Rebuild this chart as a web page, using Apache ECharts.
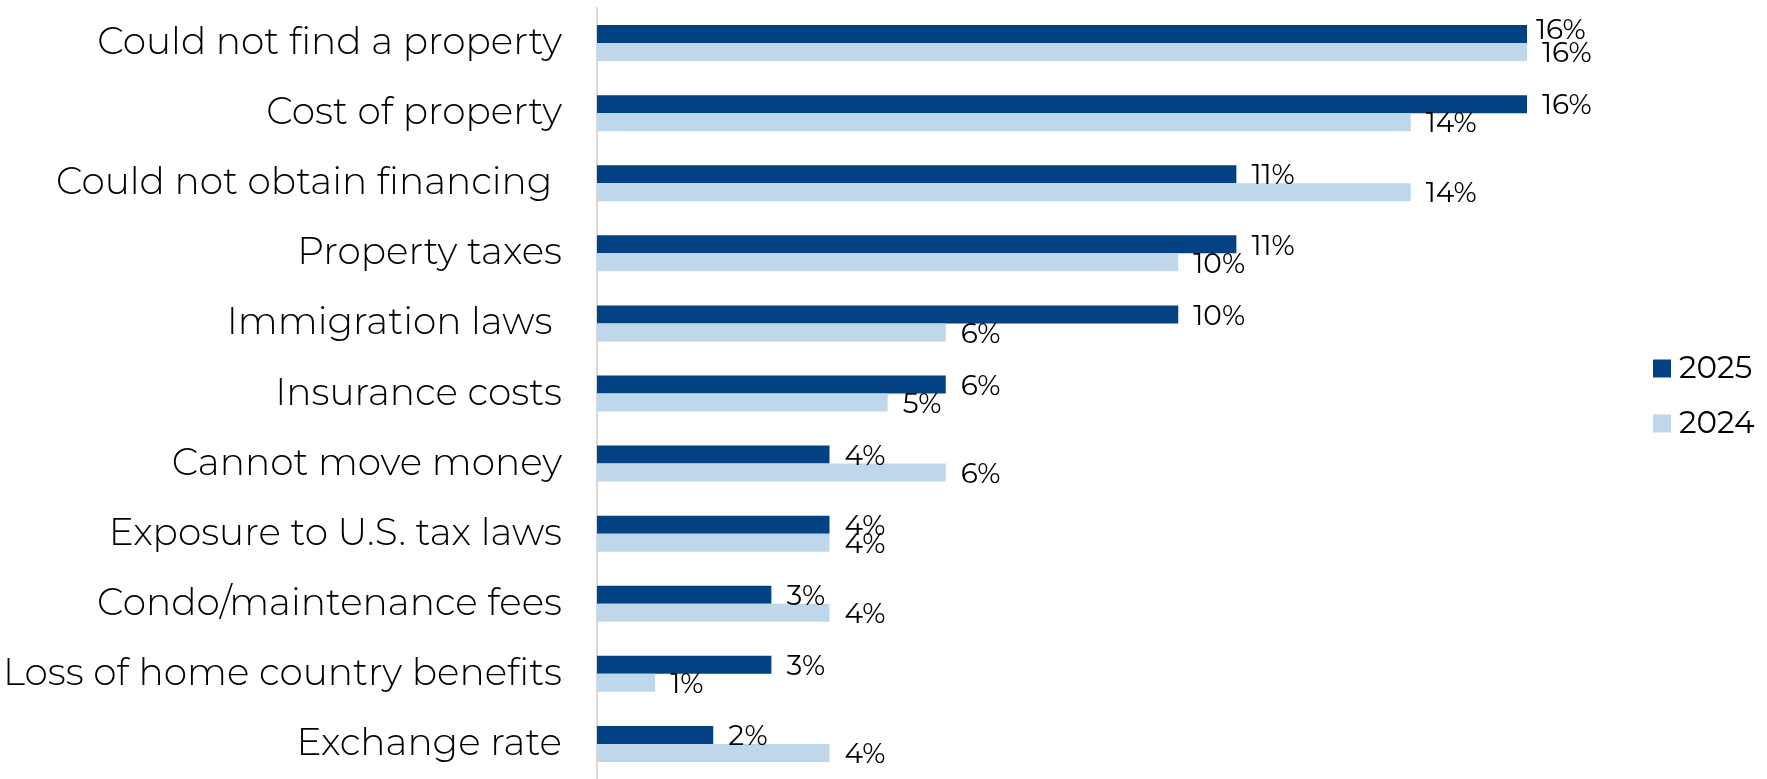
<!DOCTYPE html>
<html>
<head>
<meta charset="utf-8">
<script src="https://cdn.jsdelivr.net/npm/echarts@6/dist/echarts.min.js"></script>
<style>
  html, body { margin: 0; padding: 0; background: #fff; }
  #chart { width: 1767px; height: 779px; }
</style>
</head>
<body>
<div id="chart"></div>
<script>
// reasons (top to bottom); trailing spaces are in the original labels
const categories = [
  'Could not find a property',
  'Cost of property',
  'Could not obtain financing ',
  'Property taxes',
  'Immigration laws ',
  'Insurance costs',
  'Cannot move money',
  'Exposure to U.S. tax laws',
  'Condo/maintenance fees',
  'Loss of home country benefits',
  'Exchange rate'
];
const seriesNames = ['2025', '2024'];
const values2025 = [16, 16, 11, 11, 10, 6, 4, 4, 3, 3, 2];
const values2024 = [16, 14, 14, 10, 6, 5, 6, 4, 4, 1, 4];

const DARK = '#034282';
const LIGHT = '#bfd7eb';
const FONT = 'Montserrat, Inter, "Noto Sans", sans-serif';

const chart = echarts.init(document.getElementById('chart'));

function barSeries(name, data, color, firstOffset) {
  // the top label of 2025 sits a bit up/left in the original
  const items = data.map((v, i) =>
    (i === 0 && firstOffset) ? { value: v, label: { offset: firstOffset } } : v);
  return {
    name: name,
    type: 'bar',
    data: items,
    barWidth: 18,
    barGap: '0%',
    itemStyle: { color: color },
    label: {
      show: true,
      position: 'right',
      distance: 15,
      offset: [0, 2],
      formatter: '{c}%',
      color: '#000',
      fontFamily: FONT,
      fontSize: 28
    }
  };
}

chart.setOption({
  animation: false,
  backgroundColor: '#fff',
  grid: { left: 595, right: 240, top: 8, bottom: -3 },
  legend: {
    orient: 'vertical',
    left: 1653,
    top: 353,
    padding: 0,
    itemWidth: 18,
    itemHeight: 18,
    itemGap: 24,
    icon: 'rect',
    textStyle: {
      fontFamily: FONT, fontSize: 31, color: '#000',
      lineHeight: 30, padding: [0, 0, 0, 3]
    },
    data: seriesNames
  },
  xAxis: {
    type: 'value',
    min: 0,
    max: 16,
    show: false
  },
  yAxis: {
    type: 'category',
    inverse: true,
    data: categories,
    axisTick: { show: false },
    axisLine: { show: true, lineStyle: { color: '#d9d9d9', width: 2 } },
    axisLabel: {
      margin: 35,
      color: '#000',
      fontFamily: FONT,
      fontWeight: 300,
      fontSize: 37.5
    }
  },
  series: [
    barSeries(seriesNames[0], values2025, DARK, [-6, -3]),
    barSeries(seriesNames[1], values2024, LIGHT)
  ]
});
</script>
</body>
</html>
